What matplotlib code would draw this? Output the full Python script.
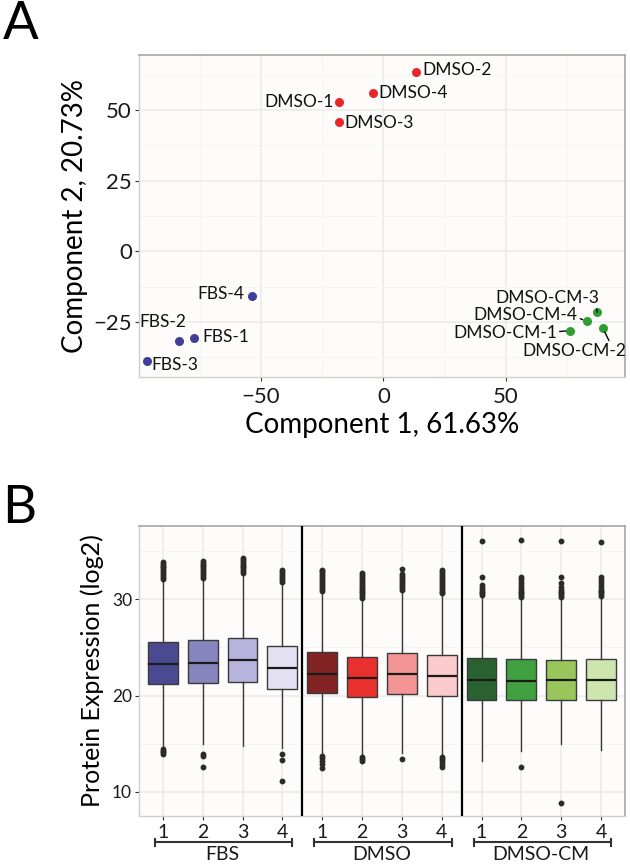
## PCA + BOXPLOT FIGURE (A / B)
import numpy as np
import matplotlib
matplotlib.use("Agg")
import matplotlib.pyplot as plt
import matplotlib.transforms as mtransforms

plt.rcParams['font.family'] = ['Lato', 'DejaVu Sans']

## PANEL A DATA (PCA scores)
fbs_names = ['FBS-1', 'FBS-2', 'FBS-3', 'FBS-4']
fbs_pc1 = [-77.5, -83.6, -96.7, -53.8]
fbs_pc2 = [-30.5, -31.6, -38.8, -15.7]

dmso_names = ['DMSO-1', 'DMSO-2', 'DMSO-3', 'DMSO-4']
dmso_pc1 = [-18.2, 13.1, -18.1, -4.1]
dmso_pc2 = [52.9, 63.4, 45.8, 56.1]

cm_names = ['DMSO-CM-1', 'DMSO-CM-2', 'DMSO-CM-3', 'DMSO-CM-4']
cm_pc1 = [76.1, 89.6, 87.3, 82.9]
cm_pc2 = [-28.0, -27.2, -21.5, -24.7]

pc1_label = 'Component 1, 61.63%'
pc2_label = 'Component 2, 20.73%'

## PANEL B DATA (box stats, log2)
groups = ['FBS', 'DMSO', 'DMSO-CM']
sample_ticks = ['1', '2', '3', '4'] * 3
q1 = [21.19, 21.26, 21.40, 20.67, 20.22, 19.81, 20.16, 19.95, 19.52, 19.52, 19.52, 19.52]
med = [23.30, 23.40, 23.71, 22.88, 22.23, 21.78, 22.23, 22.02, 21.65, 21.51, 21.58, 21.65]
q3 = [25.58, 25.72, 25.96, 25.16, 24.54, 23.96, 24.44, 24.20, 23.92, 23.75, 23.68, 23.78]
whis_lo = [14.54, 14.98, 14.78, 14.54, 13.85, 13.70, 14.00, 13.70, 13.16, 14.30, 15.00, 14.36]
whis_hi = [32.0, 32.1, 32.6, 31.7, 30.8, 30.0, 30.9, 30.5, 30.3, 30.1, 30.1, 30.2]
out_hi = [
    [32.1, 32.3, 32.5, 32.7, 32.9, 33.1, 33.3, 33.5, 33.7, 33.87],
    [32.2, 32.4, 32.6, 32.8, 33.0, 33.2, 33.4, 33.6, 33.8, 33.97],
    [32.7, 32.9, 33.1, 33.3, 33.5, 33.7, 33.9, 34.1, 34.3],
    [31.8, 32.0, 32.2, 32.4, 32.6, 32.8, 33.07],
    [30.9, 31.1, 31.3, 31.5, 31.7, 31.9, 32.1, 32.3, 32.5, 32.7, 32.9, 33.07],
    [30.1, 30.3, 30.5, 30.7, 30.9, 31.1, 31.3, 31.5, 31.7, 31.9, 32.1, 32.3, 32.5, 32.76],
    [31.0, 31.2, 31.4, 31.6, 31.8, 32.0, 32.2, 32.4, 32.66, 33.18],
    [30.6, 30.8, 31.0, 31.2, 31.4, 31.6, 31.8, 32.0, 32.2, 32.4, 32.6, 32.8, 33.0],
    [30.4, 30.6, 30.8, 31.0, 31.2, 31.5, 32.3, 36.08],
    [30.2, 30.4, 30.6, 30.8, 31.0, 31.2, 31.5, 31.8, 32.1, 32.3, 36.15],
    [30.2, 30.4, 30.6, 30.8, 31.0, 31.3, 31.7, 32.3, 36.0],
    [30.3, 30.5, 30.7, 30.9, 31.1, 31.4, 31.7, 32.0, 32.3, 35.95],
]
out_lo = [
    [14.43, 14.3, 14.15, 13.95],
    [13.95, 13.7, 12.54],
    [],
    [13.95, 13.3, 11.17],
    [13.7, 13.5, 13.2, 12.9, 12.5],
    [13.6, 13.4, 13.2],
    [13.4],
    [13.6, 13.4, 13.2, 12.9, 12.54],
    [],
    [12.6],
    [8.87],
    [],
]
box_colors = ['#4A4A93', '#8685BD', '#B6B4DC', '#E3E1F1',
              '#822424', '#E8312E', '#F29594', '#FBCACA',
              '#2A6130', '#41A040', '#98C65A', '#CFE5B0']

#
BG = '#FDFCFB'
GRID_MAJ = '#EBEBEB'
GRID_MIN = '#F4F4F4'

fig = plt.figure(figsize=(6.3, 8.66), dpi=100)
fig.patch.set_facecolor('white')

def style_panel(ax):
    ax.set_facecolor(BG)
    ax.set_axisbelow(True)
    for side in ['top', 'right']:
        ax.spines[side].set_color('#A6A6A6')
        ax.spines[side].set_linewidth(1.2)
    for side in ['left', 'bottom']:
        ax.spines[side].set_color('#CFCFCF')
        ax.spines[side].set_linewidth(1.0)
    ax.tick_params(which='major', length=3, width=0.8, color='#333333', pad=2)
    ax.tick_params(which='minor', length=0)
    ax.grid(True, which='major', color=GRID_MAJ, lw=1.1)
    ax.grid(True, which='minor', color=GRID_MIN, lw=0.6)

## PANEL A (PCA)
axA = fig.add_axes([0.2206, 0.5647, 0.7714, 0.3718])
style_panel(axA)
axA.scatter(fbs_pc1, fbs_pc2, s=30, color='#3F3F9A', zorder=3)
axA.scatter(dmso_pc1, dmso_pc2, s=30, color='#E8262A', zorder=3)
axA.scatter(cm_pc1, cm_pc2, s=30, color='#2E9E34', zorder=3)
axA.set_xlim(-99.8, 98.6)
axA.set_ylim(-44.4, 69.4)
axA.set_xticks([-50, 0, 50])
axA.set_xticks([-75, -25, 25, 75], minor=True)
axA.set_yticks([-25, 0, 25, 50])
axA.set_yticks([-37.5, -12.5, 12.5, 37.5, 62.5], minor=True)
axA.tick_params(axis='both', which='major', labelsize=16, labelcolor='#1A1A1A')
axA.tick_params(axis='x', which='major', pad=4)
axA.set_xlabel(pc1_label, fontsize=20, labelpad=4)
axA.set_ylabel(pc2_label, fontsize=20, labelpad=4)

# label offsets in pixels (dx, dy, ha, relpos for leader line or None)
lab_fbs = [(9, 1, 'left', None), (-16, 19, 'center', None), (5, -4, 'left', None), (-7, 2, 'right', None)]
lab_dmso = [(-5, 0, 'right', None), (7, 2, 'left', None), (5, -1, 'left', None), (5, 0, 'left', None)]
lab_cm = [(-13, -2, 'right', (1.0, 0.55)), (-29, -23, 'center', (0.85, 1.0)),
          (2, 14, 'right', (0.97, 0.0)), (-9, 6, 'right', (1.0, 0.35))]

for names, xs, ys, labs in [(fbs_names, fbs_pc1, fbs_pc2, lab_fbs),
                            (dmso_names, dmso_pc1, dmso_pc2, lab_dmso),
                            (cm_names, cm_pc1, cm_pc2, lab_cm)]:
    for n, x, y, (dx, dy, ha, rp) in zip(names, xs, ys, labs):
        kw = {}
        if rp is not None:
            kw['arrowprops'] = dict(arrowstyle='-', color='black', lw=1.0,
                                    shrinkA=0, shrinkB=3, relpos=rp)
        axA.annotate(n, (x, y), xytext=(dx, dy), textcoords='offset pixels',
                     ha=ha, va='center', fontsize=12.5, color='#111111',
                     zorder=4, **kw)

## PANEL B (boxplots)
axB = fig.add_axes([0.2206, 0.0577, 0.7714, 0.3349])
style_panel(axB)
pos = np.arange(1, 13)
stats = []
for i in range(12):
    stats.append(dict(med=med[i], q1=q1[i], q3=q3[i], whislo=whis_lo[i],
                      whishi=whis_hi[i], fliers=out_lo[i] + out_hi[i]))
bp = axB.bxp(stats, positions=pos, widths=0.75, patch_artist=True,
             showcaps=False,
             boxprops=dict(edgecolor='#3A3A3A', lw=1.0),
             medianprops=dict(color='#1A1A1A', lw=1.6),
             whiskerprops=dict(color='#3A3A3A', lw=1.0),
             flierprops=dict(marker='o', markersize=3.2, markerfacecolor='#2B2B2B',
                             markeredgecolor='#2B2B2B', lw=0))
for patch, c in zip(bp['boxes'], box_colors):
    patch.set_facecolor(c)
    patch.set_zorder(2)

axB.axvline(4.5, color='black', lw=1.6, zorder=3)
axB.axvline(8.5, color='black', lw=1.6, zorder=3)
axB.set_xlim(0.4, 12.6)
axB.set_ylim(7.5, 37.6)
axB.set_xticks(pos)
axB.set_xticklabels(sample_ticks)
axB.set_yticks([10, 20, 30])
axB.set_yticks([15, 25, 35], minor=True)
axB.tick_params(axis='y', which='major', labelsize=12.5, labelcolor='#1A1A1A')
axB.tick_params(axis='x', which='major', labelsize=14, labelcolor='#1A1A1A', pad=3)
axB.set_ylabel('Protein Expression (log2)', fontsize=18, labelpad=6)

# group brackets under the ticks
trans = mtransforms.blended_transform_factory(axB.transData, axB.transAxes)
for g, name in enumerate(groups):
    x0 = pos[g * 4] - 0.2
    x1 = pos[g * 4 + 3] + 0.25
    axB.plot([x0, x1], [-0.09, -0.09], color='#333333', lw=1.5, transform=trans, clip_on=False)
    axB.plot([x0, x0], [-0.078, -0.102], color='#333333', lw=1.5, transform=trans, clip_on=False)
    axB.plot([x1, x1], [-0.078, -0.102], color='#333333', lw=1.5, transform=trans, clip_on=False)
    axB.text((pos[g * 4] + pos[g * 4 + 3]) / 2, -0.134, name, transform=trans,
             ha='center', va='center', fontsize=14, color='#1A1A1A')

## PANEL LETTERS
fig.text(0.004, 0.999, 'A', fontsize=38, va='top', ha='left')
fig.text(0.004, 0.44, 'B', fontsize=38, va='top', ha='left')

fig.savefig('out.png', dpi=100, facecolor='white')
